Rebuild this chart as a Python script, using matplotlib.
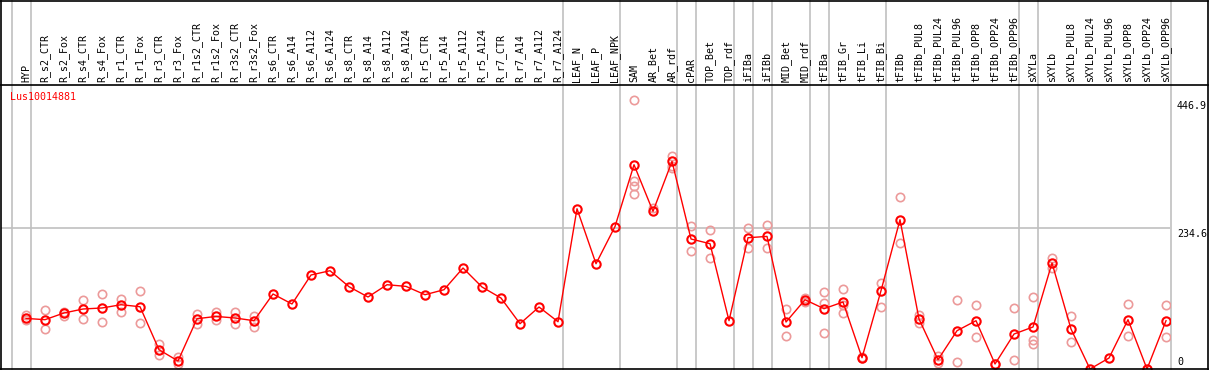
import matplotlib
matplotlib.use("Agg")
import matplotlib.pyplot as plt
from matplotlib.lines import Line2D

# sample names, left to right
categories = [
    "HYP", "R_s2_CTR", "R_s2_Fox", "R_s4_CTR", "R_s4_Fox", "R_r1_CTR", "R_r1_Fox",
    "R_r3_CTR", "R_r3_Fox", "R_r1s2_CTR", "R_r1s2_Fox", "R_r3s2_CTR", "R_r3s2_Fox",
    "R_s6_CTR", "R_s6_A14", "R_s6_A112", "R_s6_A124", "R_s8_CTR", "R_s8_A14",
    "R_s8_A112", "R_s8_A124", "R_r5_CTR", "R_r5_A14", "R_r5_A112", "R_r5_A124",
    "R_r7_CTR", "R_r7_A14", "R_r7_A112", "R_r7_A124", "LEAF_N", "LEAF_P", "LEAF_NPK",
    "SAM", "AR_Bet", "AR_rdf", "cPAR", "TOP_Bet", "TOP_rdf", "iFIBa", "iFIBb",
    "MID_Bet", "MID_rdf", "tFIBa", "tFIB_Gr", "tFIB_Li", "tFIB_Bi", "tFIBb",
    "tFIBb_PUL8", "tFIBb_PUL24", "tFIBb_PUL96", "tFIBb_OPP8", "tFIBb_OPP24",
    "tFIBb_OPP96", "sXYLa", "sXYLb", "sXYLb_PUL8", "sXYLb_PUL24", "sXYLb_PUL96",
    "sXYLb_OPP8", "sXYLb_OPP24", "sXYLb_OPP96",
]

# mean expression per sample
mean_values = [
    83.9, 81.8, 92.9, 99.5, 101.2, 106.6, 103.3, 32.0, 13.3, 83.4, 87.2, 84.6, 80.1,
    124.4, 107.8, 155.9, 163.0, 136.5, 119.4, 139.8, 137.0, 123.2, 131.5, 167.5, 136.0,
    117.7, 75.1, 102.8, 78.4, 265.8, 174.6, 236.3,
    338.8, 261.4, 344.3, 215.6, 207.8, 80.1, 217.7, 219.9,
    77.9, 114.9, 100.0, 111.1, 18.7, 129.9, 247.6,
    82.9, 15.4, 63.5, 80.1, 8.3, 58.0, 69.7, 175.8,
    66.3, 0.0, 18.2, 81.8, 0.0, 80.1,
]

# individual replicates per sample
replicates = [
    [89.6, 80.6], [98.3, 66.3], [95.0, 88.4], [114.9, 82.9], [124.9, 77.9],
    [116.1, 94.5], [129.9, 76.3], [42.0, 22.6], [19.2, 7.6], [91.7, 74.0],
    [95.0, 81.8], [95.0, 74.0], [88.4, 70.1],
    [], [], [], [], [], [], [], [], [], [], [], [], [], [], [], [],
    [], [], [],
    [446.9, 311.1, 304.0, 290.2], [267.0], [352.6, 337.1, 332.7],
    [237.6, 195.0], [231.0, 184.1], [], [233.8, 200.7], [239.3, 200.7],
    [100.0, 54.7], [117.7, 110.4], [127.7, 109.5, 59.7], [132.7, 106.6, 92.9],
    [19.5, 17.5], [142.6, 102.8], [285.2, 209.0],
    [89.6, 76.3], [20.9, 10.0], [114.4, 11.6], [106.6, 53.1], [8.8],
    [101.2, 14.9], [119.4, 48.6, 41.5], [184.1, 167.5],
    [87.9, 44.8], [], [], [107.8, 54.7], [], [106.1, 53.1],
]

gene = "Lus10014881"
tick_values = [446.9, 234.6, 0]
group_starts = [0, 1, 29, 32, 35, 36, 38, 39, 40, 42, 43, 46, 53, 54, 61]

W, H = 1209, 370
fig = plt.figure(figsize=(W / 100, H / 100), dpi=100)
ax = fig.add_axes([1 / W, 1 / H, 1169 / W, 284 / H])

x = list(range(len(categories)))
ymax = 471.0
ax.set_xlim(-1.316, 60.21)
ax.set_ylim(0, ymax)
for s in ax.spines.values():
    s.set_visible(False)
ax.set_xticks([])
ax.set_yticks([])

# header extends above the axes
top_frac = 369 / 284

for g in group_starts:
    ax.axvline(g - 0.75, ymin=0, ymax=top_frac, color="#c0c0c0", lw=1.2,
               clip_on=False, zorder=1)
ax.axhline(234.6, color="#c0c0c0", lw=1.2, zorder=1)

# replicates
rx, ry = [], []
for i, reps in enumerate(replicates):
    for r in reps:
        rx.append(i)
        ry.append(r)
ax.plot(rx, ry, ls="none", marker="o", ms=6, mfc="none", mec="#ec9a9a",
        mew=1.2, zorder=2)

# mean line
ax.plot(x, mean_values, color="red", lw=1.0, marker="o", ms=6, mfc="none",
        mec="red", mew=1.5, zorder=3)

mono = "DejaVu Sans Mono"
for i, name in enumerate(categories):
    ax.text(i, 1 + 3 / 284, name, rotation=90, ha="center", va="bottom",
            fontsize=7.2, family=mono, transform=ax.get_xaxis_transform(),
            clip_on=False)

fig.text(10 / W, 1 - 97 / H, gene, color="red", fontsize=7.2, family=mono,
         ha="left", va="center")

for v in tick_values:
    ypix = 369 - v * 284 / ymax
    if v == 0:
        fig.text(1177 / W, 1 - 362 / H, "0", fontsize=7.2, family=mono,
                 ha="left", va="center")
    else:
        fig.text(1177 / W, 1 - (ypix + 6) / H, f"{v}", fontsize=7.2, family=mono,
                 ha="left", va="center")

# frame lines
def hline(ypix, x0=0, x1=1207.5):
    fig.add_artist(Line2D([x0 / W, x1 / W], [1 - ypix / H, 1 - ypix / H],
                          color="black", lw=1.2))

def vline(xpix, y0=0.5, y1=369.5):
    fig.add_artist(Line2D([xpix / W, xpix / W], [1 - y0 / H, 1 - y1 / H],
                          color="black", lw=1.2))

hline(0.5)
hline(85)
hline(369)
vline(0.8)
vline(1207.5)

fig.savefig("out.png", dpi=100)
